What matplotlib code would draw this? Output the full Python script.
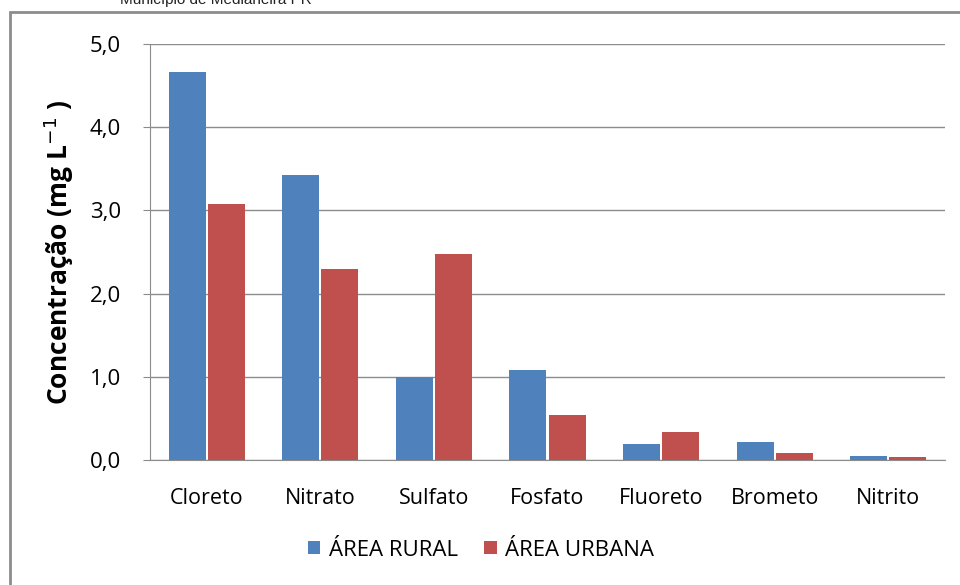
import numpy as np
import matplotlib.pyplot as plt
from matplotlib.patches import Rectangle

# Data
categorias = ["Cloreto", "Nitrato", "Sulfato", "Fosfato", "Fluoreto", "Brometo", "Nitrito"]
rural = [4.66, 3.42, 1.00, 1.08, 0.19, 0.22, 0.05]
urbana = [3.08, 2.30, 2.48, 0.54, 0.34, 0.08, 0.035]
yticks = [0.0, 1.0, 2.0, 3.0, 4.0, 5.0]

fig = plt.figure(figsize=(9.6, 5.85), dpi=100)
ax = fig.add_axes([150 / 960, 1 - 460 / 585, 795 / 960, 416 / 585])

# outer frame of the chart
fig.patches.append(Rectangle((10 / 960, -0.05), 1.2, 1 - 12 / 585 + 0.05,
                             transform=fig.transFigure, fill=False,
                             edgecolor="#8c8c8c", linewidth=2))

# caption cut at the top
fig.text(120 / 960, 1.0, "Município de Medianeira PR", fontsize=11,
         family="Liberation Sans", va="center", ha="left", color="#222222")

x = np.arange(len(categorias))
w = 0.325
ax.bar(x - w / 2 - 0.01, rural, w, color="#4F81BD", label="ÁREA RURAL", zorder=3)
ax.bar(x + w / 2 + 0.01, urbana, w, color="#C0504D", label="ÁREA URBANA", zorder=3)

ax.set_xlim(-0.5, len(categorias) - 0.5)
ax.set_ylim(0, 5)
ax.set_yticks(yticks)
ax.set_yticklabels([f"{v:.1f}".replace(".", ",") for v in yticks],
                   fontsize=16, family="Open Sans")
ax.set_xticks(x)
ax.set_xticklabels(categorias, fontsize=15.5, family="Open Sans")
ax.tick_params(axis="x", length=0, pad=20)
ax.tick_params(axis="y", length=5, color="#8c8c8c", pad=16)
ax.grid(axis="y", color="#8c8c8c", linewidth=1, zorder=0)

for s in ["top", "right"]:
    ax.spines[s].set_visible(False)
for s in ["left", "bottom"]:
    ax.spines[s].set_color("#8c8c8c")

ax.set_ylabel("Concentração (mg L$^{-1}$ )", fontsize=19, fontweight="bold",
              family="Open Sans", labelpad=10)

fig.legend(loc="center", bbox_to_anchor=(481 / 960, 1 - 550 / 585), ncol=2,
           frameon=False, prop={"family": "Open Sans", "size": 16},
           handlelength=0.55, handleheight=0.55, handletextpad=0.4, columnspacing=1.2)

fig.savefig("out.png", dpi=100)
